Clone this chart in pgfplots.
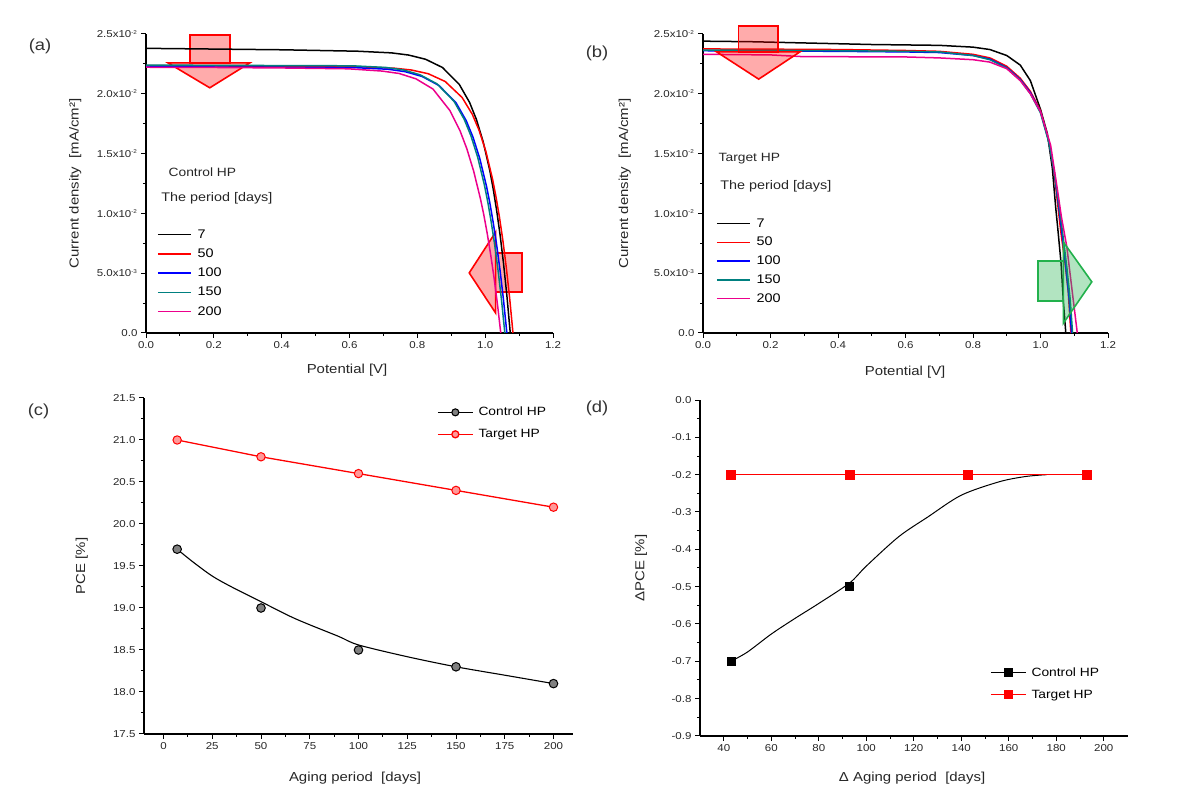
\documentclass[border=0pt]{standalone}
\usepackage{pgfplots}
\pgfplotsset{compat=1.18}
\usepackage{fontspec}
\setmainfont{Liberation Sans}[FakeStretch=1.15]
\definecolor{ocTeal}{HTML}{008080}
\definecolor{ocGreen}{HTML}{22B14C}
\newcommand{\ex}[1]{\textsuperscript{\fontsize{5.5}{6}\selectfont #1}}
\pgfplotsset{
  panel/.style={
    scale only axis,
    axis x line=bottom, axis y line=left,
    axis line style={-, line width=1.3pt, black},
    tick align=outside, major tick length=5pt, minor tick length=3pt,
    tick style={line width=1pt, black},
    tick label style={font=\fontsize{10}{12}\selectfont, color=black!85},
    label style={font=\fontsize{13}{15}\selectfont, color=black!85},
    /pgf/number format/assume math mode=true,
  },
  jvleg/.style={
    legend cell align=left,
    legend style={draw=none, fill=none, inner sep=0pt, font=\fontsize{12.5}{14}\selectfont, row sep=5pt,
      /tikz/every odd column/.append style={column sep=4pt}},
    legend image code/.code={\draw[##1, line width=1.5pt] (0pt,0pt) -- (33pt,0pt);},
  },
  dleg/.style={
    legend cell align=left,
    legend style={draw=none, fill=none, inner sep=0pt, font=\fontsize{12}{14}\selectfont, row sep=8pt,
      /tikz/every odd column/.append style={column sep=3pt}},
    legend image code/.code={\draw[mark repeat=2,mark phase=2,##1] plot coordinates {(0pt,0pt) (17.5pt,0pt) (35pt,0pt)};},
  },
  jv/.style={line width=1.5pt},
}
\begin{document}
\begin{tikzpicture}
\useasboundingbox (0,0) rectangle (1184pt,805pt);
% ---------------- (a)
\begin{axis}[panel, jvleg, at={(146pt,472pt)}, anchor=south west, width=407pt, height=299pt,
  xmin=0, xmax=1.2, ymin=0, ymax=2.5,
  xtick={0,0.2,0.4,0.6,0.8,1.0,1.2}, minor x tick num=1,
  ytick={0,0.5,1,1.5,2,2.5}, minor y tick num=1,
  xticklabel style={/pgf/number format/fixed, /pgf/number format/fixed zerofill, /pgf/number format/precision=1},
  yticklabels={0.0, 5.0x10\ex{-3}, 1.0x10\ex{-2}, 1.5x10\ex{-2}, 2.0x10\ex{-2}, 2.5x10\ex{-2}},
  xlabel={Potential [V]}, ylabel={Current density\ \ [mA/cm²]},
  xlabel style={at={(axis description cs:0.494,-0.124)}, anchor=center},
  ylabel style={at={(axis description cs:-0.174,0.5)}, anchor=center},
  legend style={at={(axis description cs:0.027,0.353)}, anchor=north west},
]
\draw[red, line width=1.6pt, fill=red, fill opacity=0.33] (axis cs:0.129,2.49) rectangle (axis cs:0.247,2.258);
\draw[red, line width=1.6pt, fill=red, fill opacity=0.33] (axis cs:0.065,2.258) -- (axis cs:0.306,2.258) -- (axis cs:0.188,2.05) -- cycle;
\draw[red, line width=1.6pt, fill=red, fill opacity=0.33] (axis cs:1.031,0.669) rectangle (axis cs:1.109,0.342);
\draw[red, line width=1.6pt, fill=red, fill opacity=0.33] (axis cs:1.031,0.844) -- (axis cs:1.031,0.167) -- (axis cs:0.953,0.5025) -- cycle;
\addplot[black, jv] coordinates {(0,2.380)(0.2,2.374)(0.4,2.368)(0.624,2.356)(0.724,2.342)(0.774,2.324)(0.824,2.289)(0.874,2.220)(0.924,2.077)(0.954,1.928)(0.974,1.787)(0.994,1.600)(1.014,1.354)(1.024,1.199)(1.034,1.022)(1.044,0.820)(1.054,0.585)(1.064,0.313)(1.074,0)};
\addlegendentry{7}
\addplot[red, jv] coordinates {(0,2.235)(0.2,2.233)(0.4,2.230)(0.632,2.226)(0.732,2.214)(0.782,2.199)(0.832,2.168)(0.882,2.103)(0.932,1.969)(0.962,1.829)(0.982,1.695)(1.002,1.519)(1.022,1.284)(1.032,1.137)(1.042,0.970)(1.052,0.778)(1.062,0.555)(1.072,0.297)(1.082,0)};
\addlegendentry{50}
\addplot[blue, jv] coordinates {(0,2.225)(0.2,2.224)(0.4,2.222)(0.614,2.219)(0.714,2.205)(0.764,2.185)(0.814,2.145)(0.864,2.069)(0.914,1.925)(0.944,1.776)(0.964,1.638)(0.984,1.460)(1.004,1.226)(1.014,1.084)(1.024,0.919)(1.034,0.734)(1.044,0.521)(1.054,0.278)(1.064,0)};
\addlegendentry{100}
\addplot[ocTeal, jv] coordinates {(0,2.240)(0.2,2.238)(0.4,2.236)(0.608,2.234)(0.708,2.220)(0.758,2.200)(0.808,2.159)(0.858,2.083)(0.908,1.938)(0.938,1.788)(0.958,1.649)(0.978,1.469)(0.998,1.234)(1.008,1.091)(1.018,0.925)(1.028,0.739)(1.038,0.524)(1.048,0.280)(1.058,0)};
\addlegendentry{150}
\addplot[magenta, jv] coordinates {(0,2.222)(0.2,2.220)(0.4,2.216)(0.596,2.209)(0.696,2.190)(0.746,2.170)(0.796,2.125)(0.846,2.040)(0.896,1.860)(0.926,1.690)(0.946,1.540)(0.966,1.354)(0.986,1.123)(0.996,0.988)(1.006,0.833)(1.016,0.659)(1.026,0.466)(1.036,0.246)(1.046,0)};
\addlegendentry{200}
\node[anchor=west, font=\fontsize{12}{14}\selectfont, color=black!85] at (axis description cs:0.047,0.538) {Control HP};
\node[anchor=west, font=\fontsize{12.5}{14}\selectfont, color=black!85] at (axis description cs:0.029,0.451) {The period [days]};
\end{axis}
% ---------------- (b)
\begin{axis}[panel, jvleg, at={(703pt,472pt)}, anchor=south west, width=405pt, height=299pt, clip=false,
  xmin=0, xmax=1.2, ymin=0, ymax=2.5,
  xtick={0,0.2,0.4,0.6,0.8,1.0,1.2}, minor x tick num=1,
  ytick={0,0.5,1,1.5,2,2.5}, minor y tick num=1,
  xticklabel style={/pgf/number format/fixed, /pgf/number format/fixed zerofill, /pgf/number format/precision=1},
  yticklabels={0.0, 5.0x10\ex{-3}, 1.0x10\ex{-2}, 1.5x10\ex{-2}, 2.0x10\ex{-2}, 2.5x10\ex{-2}},
  xlabel={Potential [V]}, ylabel={Current density\ \ [mA/cm²]},
  xlabel style={at={(axis description cs:0.499,-0.13)}, anchor=center},
  ylabel style={at={(axis description cs:-0.193,0.5)}, anchor=center},
  legend style={at={(axis description cs:0.032,0.39)}, anchor=north west, row sep=4.5pt},
]
\addplot[black, jv] coordinates {(0,2.44)(0.15,2.435)(0.3,2.425)(0.5,2.412)(0.7,2.405)(0.8,2.39)(0.85,2.37)(0.9,2.32)(0.94,2.24)(0.97,2.11)(1.0,1.87)(1.02,1.67)(1.035,1.38)(1.045,1.05)(1.052,0.85)(1.061,0.58)(1.068,0.25)(1.075,0)};
\addlegendentry{7}
\addplot[red, jv] coordinates {(0,2.375)(0.2,2.373)(0.4,2.37)(0.6,2.362)(0.7,2.355)(0.8,2.33)(0.85,2.30)(0.9,2.23)(0.94,2.13)(0.97,2.02)(1.0,1.86)(1.025,1.60)(1.04,1.35)(1.05,1.10)(1.06,0.85)(1.072,0.60)(1.082,0.35)(1.09,0)};
\addlegendentry{50}
\addplot[blue, jv] coordinates {(0,2.36)(0.2,2.358)(0.4,2.355)(0.6,2.35)(0.7,2.345)(0.8,2.32)(0.85,2.29)(0.9,2.22)(0.94,2.12)(0.97,2.01)(1.0,1.85)(1.025,1.60)(1.04,1.36)(1.052,1.10)(1.063,0.85)(1.075,0.55)(1.085,0.28)(1.092,0)};
\addlegendentry{100}
\addplot[ocTeal, jv] coordinates {(0,2.365)(0.2,2.363)(0.4,2.36)(0.6,2.355)(0.7,2.35)(0.8,2.32)(0.85,2.285)(0.9,2.215)(0.94,2.115)(0.97,2.0)(1.0,1.84)(1.025,1.59)(1.04,1.36)(1.053,1.10)(1.065,0.85)(1.078,0.55)(1.088,0.28)(1.095,0)};
\addlegendentry{150}
\addplot[magenta, jv] coordinates {(0,2.33)(0.2,2.325)(0.3,2.31)(0.4,2.31)(0.6,2.308)(0.7,2.30)(0.8,2.285)(0.85,2.265)(0.9,2.21)(0.94,2.11)(0.97,2.0)(1.0,1.85)(1.03,1.57)(1.05,1.20)(1.062,0.97)(1.078,0.72)(1.096,0.30)(1.109,0)};
\addlegendentry{200}
\draw[red, line width=1.6pt, fill=red, fill opacity=0.33] (axis cs:0.1046,2.567) rectangle (axis cs:0.223,2.35);
\draw[red, line width=1.6pt, fill=red, fill opacity=0.33] (axis cs:0.0406,2.35) -- (axis cs:0.287,2.35) -- (axis cs:0.165,2.1225) -- cycle;
\draw[ocGreen, line width=1.6pt, fill=ocGreen, fill opacity=0.35] (axis cs:0.9917,0.6) rectangle (axis cs:1.0676,0.269);
\draw[ocGreen, line width=1.6pt, fill=ocGreen, fill opacity=0.35] (axis cs:1.0676,0.761) -- (axis cs:1.0676,0.081) -- (axis cs:1.152,0.4275) -- cycle;
\node[anchor=west, font=\fontsize{12}{14}\selectfont, color=black!85] at (axis description cs:0.03,0.582) {Target HP};
\node[anchor=west, font=\fontsize{12.5}{14}\selectfont, color=black!85] at (axis description cs:0.034,0.492) {The period [days]};
\end{axis}
% ---------------- (c)
\begin{axis}[panel, dleg, at={(144pt,71pt)}, anchor=south west, width=429pt, height=336pt,
  xmin=-10, xmax=210, ymin=17.5, ymax=21.5,
  xtick={0,25,50,75,100,125,150,175,200}, minor x tick num=1,
  ytick={17.5,18,18.5,19,19.5,20,20.5,21,21.5}, minor y tick num=1,
  yticklabel style={/pgf/number format/fixed, /pgf/number format/fixed zerofill, /pgf/number format/precision=1},
  xlabel={Aging period\ \ [days]}, ylabel={PCE [\%]},
  xlabel style={at={(axis description cs:0.492,-0.131)}, anchor=center},
  ylabel style={at={(axis description cs:-0.145,0.5)}, anchor=center},
  legend style={at={(axis description cs:0.683,0.979)}, anchor=north west},
]
\addplot[black, line width=1.1pt, smooth, forget plot] coordinates {(7,19.70)(15,19.55)(25,19.38)(35,19.25)(50,19.075)(65,18.90)(75,18.80)(90,18.66)(100,18.56)(125,18.42)(150,18.30)(175,18.20)(200,18.10)};
\addplot[only marks, mark=*, mark size=4.3pt, mark options={fill=gray, draw=black, line width=1pt}, forget plot] coordinates {(7,19.7)(50,19.0)(100,18.5)(150,18.3)(200,18.1)};
\addplot[red, line width=1.3pt, mark=*, mark size=4.2pt, mark options={fill=red!40, draw=red, line width=1pt}, forget plot] coordinates {(7,21.0)(50,20.8)(100,20.6)(150,20.4)(200,20.2)};
\addlegendimage{black, line width=1.1pt, mark=*, mark size=3.5pt, mark options={fill=gray, draw=black}}
\addlegendentry{Control HP}
\addlegendimage{red, line width=1.3pt, mark=*, mark size=3.5pt, mark options={fill=red!40, draw=red}}
\addlegendentry{Target HP}
\end{axis}
% ---------------- (d)
\begin{axis}[panel, dleg, at={(700pt,69pt)}, anchor=south west, width=427.5pt, height=336pt,
  xmin=30, xmax=210, ymin=-0.9, ymax=0,
  xtick={40,60,80,100,120,140,160,180,200}, minor x tick num=1,
  ytick={-0.9,-0.8,-0.7,-0.6,-0.5,-0.4,-0.3,-0.2,-0.1,0}, minor y tick num=1,
  yticklabel style={/pgf/number format/fixed, /pgf/number format/fixed zerofill, /pgf/number format/precision=1},
  xlabel={Δ Aging period\ \ [days]}, ylabel={ΔPCE [\%]},
  xlabel style={at={(axis description cs:0.496,-0.125)}, anchor=center},
  ylabel style={at={(axis description cs:-0.138,0.5)}, anchor=center},
  legend style={at={(axis description cs:0.678,0.21)}, anchor=north west},
]
\addplot[black, line width=1pt, smooth, forget plot] coordinates {(43,-0.70)(50,-0.675)(60,-0.627)(70,-0.585)(80,-0.545)(93,-0.49)(100,-0.445)(113.7,-0.366)(126,-0.313)(140,-0.255)(156,-0.219)(167,-0.205)(176,-0.2)};
\addplot[only marks, mark=square*, mark size=4pt, black, forget plot] coordinates {(43,-0.7)(93,-0.5)(143,-0.2)(193,-0.2)};
\addplot[red, line width=1.5pt, mark=square*, mark size=4.3pt, mark options={fill=red, draw=red}, forget plot] coordinates {(43,-0.2)(93,-0.2)(143,-0.2)(193,-0.2)};
\addlegendimage{black, line width=1.1pt, mark=square*, mark size=4pt}
\addlegendentry{Control HP}
\addlegendimage{red, line width=1.5pt, mark=square*, mark size=4pt}
\addlegendentry{Target HP}
\end{axis}
% panel labels
\node[font=\fontsize{16}{18}\selectfont, color=black!80] at (40pt,759pt) {(a)};
\node[font=\fontsize{16}{18}\selectfont, color=black!80] at (597pt,752pt) {(b)};
\node[font=\fontsize{16}{18}\selectfont, color=black!80] at (38.5pt,394pt) {(c)};
\node[font=\fontsize{16}{18}\selectfont, color=black!80] at (597pt,397pt) {(d)};
\end{tikzpicture}
\end{document}
